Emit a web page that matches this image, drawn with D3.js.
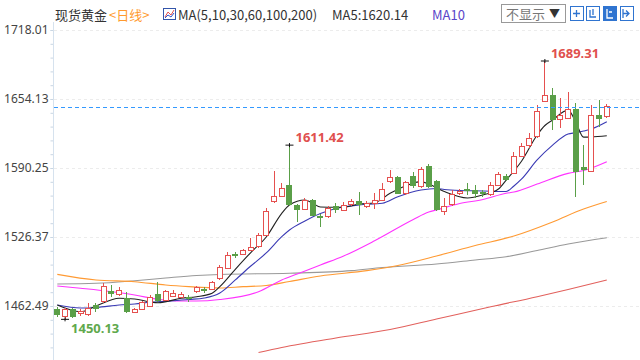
<!DOCTYPE html>
<html>
<head>
<meta charset="utf-8">
<script src="https://cdn.jsdelivr.net/npm/d3@7"></script>
<style>
  body { margin: 0; background: #fff; }
  svg { display: block; font-family: "Noto Sans CJK SC", "Noto Sans", sans-serif; }
</style>
</head>
<body>
<svg id="chart"></svg>
<script>
// daily candles (oldest first)
const opens = [1459.4,1452.6,1458.8,1455.1,1454.2,1462.5,1466.5,1475.5,1472.7,1469.6,
  1456.3,1459.7,1461.9,1472.7,1467.6,1471.7,1470.8,1470.8,1475.7,1477.8,
  1478.0,1488.4,1497.4,1510.6,1510.6,1514.3,1517.4,1528.2,1559.1,1564.3,
  1574.5,1555.1,1552.0,1560.0,1545.8,1545.2,1554.4,1550.7,1556.0,1559.1,
  1554.4,1557.8,1560.6,1577.6,1581.0,1566.2,1582.8,1572.9,1591.5,1577.3,
  1549.8,1556.0,1566.8,1570.8,1569.0,1567.6,1565.3,1574.5,1582.2,1585.3,
  1600.7,1611.5,1619.2,1651.6,1657.8,1634.7,1636.3,1644.0,1590.5,1586.8,
  1638.4,1637.7];
const highs = [1461.6,1460.6,1460.6,1459.7,1465.3,1465.3,1483.8,1481.9,1480.1,1475.7,
  1460.6,1467.1,1472.7,1485.0,1477.3,1477.3,1475.5,1472.7,1481.0,1480.1,
  1485.6,1500.5,1512.8,1512.8,1515.3,1525.5,1530.1,1553.2,1587.8,1576.6,
  1611.42,1556.9,1562.5,1561.5,1547.7,1555.1,1557.8,1559.1,1561.5,1568.3,
  1559.7,1567.4,1576.4,1588.4,1582.8,1578.2,1586.5,1591.2,1594.0,1579.1,
  1562.5,1569.9,1570.8,1576.4,1574.5,1569.9,1577.6,1586.8,1584.7,1605.3,
  1613.4,1622.7,1648.6,1689.31,1664.0,1655.1,1660.9,1650.4,1611.5,1648.6,
  1653.2,1649.5];
const lows = [1452.3,1450.13,1451.4,1453.2,1453.2,1457.2,1465.3,1470.8,1471.7,1456.0,
  1456.0,1458.8,1461.6,1466.2,1467.1,1470.8,1469.9,1466.5,1474.5,1474.5,
  1477.3,1486.6,1496.7,1506.6,1509.7,1513.9,1516.6,1527.3,1557.8,1563.4,
  1555.1,1540.5,1551.4,1545.8,1535.9,1544.4,1548.6,1550.0,1555.1,1546.7,
  1553.2,1552.3,1559.7,1576.8,1566.2,1565.3,1571.7,1571.7,1571.7,1550.4,
  1546.7,1555.1,1565.3,1565.3,1562.5,1563.4,1564.3,1573.6,1578.2,1584.7,
  1600.0,1608.8,1618.0,1650.9,1625.4,1627.3,1635.6,1563.7,1574.5,1586.1,
  1628.5,1637.0];
const closes = [1454.2,1458.8,1452.6,1457.2,1460.6,1460.6,1480.4,1473.6,1477.3,1457.2,
  1458.8,1465.3,1469.9,1468.0,1475.5,1474.5,1472.7,1469.9,1479.2,1476.9,
  1484.1,1497.7,1509.7,1509.7,1513.7,1516.2,1528.2,1549.8,1563.7,1571.7,
  1556.0,1551.4,1560.0,1546.7,1544.0,1553.2,1552.0,1555.1,1559.1,1556.0,
  1557.8,1560.6,1569.9,1581.0,1566.8,1576.4,1573.6,1588.4,1572.9,1551.4,
  1554.4,1565.3,1568.3,1569.4,1567.1,1566.7,1574.5,1583.8,1579.8,1600.7,
  1609.9,1617.7,1642.4,1657.8,1635.3,1639.3,1644.0,1586.8,1588.4,1639.3,
  1636.3,1647.0];

// moving averages as [candle index, price]
const ma5 = [[0,1463.4],[3,1457.2],[5,1462.5],[8,1469.6],[10,1469.0],[12,1466.2],[13,1465.5],
  [16,1469.6],[18,1471.1],[20,1474.3],[21,1480.4],[23,1496.5],[25,1512.0],[27,1526.4],
  [29,1548.3],[30,1556.0],[32,1560.6],[33,1557.6],[34,1554.1],[36,1553.9],[37,1553.9],
  [39,1556.9],[41,1558.1],[43,1566.8],[45,1573.6],[47,1577.6],[48,1575.4],[50,1568.5],
  [53,1562.5],[55,1565.3],[57,1570.8],[58,1579.1],[60,1596.7],[62,1620.8],[63,1629.6],
  [64,1634.7],[66,1643.8],[67,1632.6],[68,1618.8],[69,1619.0],[71,1620.14]];
const ma10 = [[0,1463.4],[3,1460.6],[5,1461.1],[8,1463.4],[10,1464.4],[12,1465.9],[14,1466.9],
  [17,1468.5],[19,1469.9],[21,1474.5],[23,1486.6],[25,1499.5],[27,1511.6],[29,1526.7],
  [30,1532.9],[32,1541.2],[34,1548.1],[36,1552.8],[39,1556.0],[42,1557.6],[44,1563.7],
  [47,1569.9],[49,1571.3],[50,1570.3],[52,1569.4],[55,1569.0],[58,1568.5],[59,1573.6],
  [60,1580.1],[62,1597.7],[64,1611.5],[66,1621.7],[67,1622.9],[68,1624.5],[69,1626.4],
  [71,1633.1]];
const ma30 = [[0,1481.0],[3,1478.9],[10,1472.7],[13,1468.7],[16,1467.1],[18,1467.1],[21,1468.5],
  [26,1475.7],[29,1486.6],[31,1492.1],[34,1500.5],[37,1508.8],[41,1522.9],[46,1542.6],
  [48,1549.5],[49,1551.4],[52,1557.4],[55,1561.1],[58,1566.8],[59,1568.0],[62,1575.4],
  [66,1585.3],[68,1587.9],[71,1596.1]];
const ma60 = [[0,1491.8],[5,1486.6],[10,1485.0],[14,1481.9],[17,1480.4],[21,1479.2],[24,1480.4],
  [27,1481.5],[30,1485.2],[34,1490.3],[40,1495.2],[44,1500.0],[49,1508.8],[54,1518.5],
  [59,1527.3],[64,1540.3],[68,1552.3],[71,1559.2]];
const ma100 = [[0,1482.9],[5,1483.5],[10,1485.9],[14,1488.4],[18,1490.7],[21,1491.7],[30,1492.8],
  [38,1495.2],[42,1498.1],[49,1501.4],[54,1505.1],[58,1508.1],[62,1513.9],[66,1519.9],
  [71,1525.7]];
const ma200 = [[26,1419.4],[29,1424.1],[36,1432.9],[43,1440.7],[49,1450.4],[56,1461.8],
  [62,1471.1],[66,1477.8],[71,1486.6]];

const yLabels = [1718.01, 1654.13, 1590.25, 1526.37, 1462.49];
const lastPrice = 1647.0;
const ma5Last = "1620.14";
const marks = [63, 30, 1]; // candles whose extreme is labelled

const svg = d3.select("#chart").attr("width", 640).attr("height", 360);
svg.append("rect").attr("width", 640).attr("height", 360).attr("fill", "#fff");

const x = d3.scaleLinear().domain([0, closes.length - 1]).range([57.3, 606.8]);
const y = d3.scaleLinear().domain([1462.49, 1718.01]).range([306, 30]);

svg.append("clipPath").attr("id", "plot")
  .append("rect").attr("x", 54).attr("y", 22).attr("width", 586).attr("height", 334);

// faint grid
svg.append("g").selectAll("line").data(yLabels).join("line")
  .attr("x1", 54).attr("x2", 640)
  .attr("y1", d => Math.round(y(d)) + 0.5).attr("y2", d => Math.round(y(d)) + 0.5)
  .attr("stroke", "#ececec").attr("stroke-dasharray", "3,3");

// y axis
const step = (yLabels[0] - yLabels[1]) / 5;
const minor = d3.range(-3, 21).map(k => yLabels[4] + k * step);
svg.append("g").attr("transform", "translate(53.5,0)")
  .call(d3.axisLeft(y).tickValues(minor).tickSize(3).tickFormat(""))
  .call(g => g.select(".domain").remove())
  .call(g => g.selectAll("line").attr("stroke", "#c9d6e3"));
svg.append("g").attr("transform", "translate(53.5,0)")
  .call(d3.axisLeft(y).tickValues(yLabels).tickSize(3).tickPadding(2).tickFormat(d3.format(".2f")))
  .call(g => g.select(".domain").remove())
  .call(g => g.selectAll("line").attr("stroke", "#c9d6e3"))
  .call(g => g.selectAll("text").attr("fill", "#444").attr("font-size", 12)
    .attr("font-family", "'Noto Sans', sans-serif"));
svg.append("line").attr("x1", 53.5).attr("x2", 53.5).attr("y1", 22).attr("y2", 360)
  .attr("stroke", "#d6e2ee");

const plot = svg.append("g").attr("clip-path", "url(#plot)");

// moving averages
const line = d3.line().x(d => x(d[0])).y(d => y(d[1])).curve(d3.curveMonotoneX);
const maSeries = [
  { data: ma200, color: "#e2605c" },
  { data: ma100, color: "#999999" },
  { data: ma60, color: "#ff9a33" },
  { data: ma30, color: "#ff33ff" },
  { data: ma10, color: "#3a3ab4" },
  { data: ma5, color: "#222222" }
];
plot.selectAll("path.ma").data(maSeries).join("path")
  .attr("class", "ma")
  .attr("d", d => line(d.data))
  .attr("fill", "none")
  .attr("stroke", d => d.color)
  .attr("stroke-width", 1.1);

// candles
const red = "#e5504f", green = "#5a9f48";
const idx = d3.range(closes.length);
const up = i => closes[i] >= opens[i];
const cg = plot.append("g").attr("shape-rendering", "crispEdges");
cg.selectAll("line").data(idx).join("line")
  .attr("x1", i => x(i)).attr("x2", i => x(i))
  .attr("y1", i => y(highs[i])).attr("y2", i => y(lows[i]))
  .attr("stroke", i => up(i) ? red : green);
cg.selectAll("rect").data(idx).join("rect")
  .attr("x", i => x(i) - 2.5)
  .attr("width", 5)
  .attr("y", i => y(Math.max(opens[i], closes[i])))
  .attr("height", i => Math.max(1, Math.abs(y(opens[i]) - y(closes[i]))))
  .attr("fill", i => up(i) ? "#fff" : green)
  .attr("stroke", i => up(i) ? red : green);

// current price
svg.append("line").attr("x1", 54).attr("x2", 640)
  .attr("y1", Math.round(y(lastPrice)) + 0.5).attr("y2", Math.round(y(lastPrice)) + 0.5)
  .attr("stroke", "#3399ff").attr("stroke-dasharray", "4,3");

// extreme marks
const isLow = i => i === d3.minIndex(lows);
const mg = svg.append("g");
marks.forEach(i => {
  const v = isLow(i) ? lows[i] : highs[i];
  const px = x(i), py = y(v);
  mg.append("line").attr("x1", px - 4).attr("x2", px + 4).attr("y1", py).attr("y2", py)
    .attr("stroke", "#111");
  mg.append("line").attr("x1", px).attr("x2", px).attr("y1", py - 2).attr("y2", py + 2)
    .attr("stroke", "#111");
  mg.append("text")
    .attr("x", px + 6).attr("y", isLow(i) ? py + 13.5 : py - 3.5)
    .attr("fill", isLow(i) ? "#5fa94d" : "#e0504e")
    .attr("font-size", 13).attr("font-weight", "bold")
    .attr("font-family", "'Noto Sans', sans-serif")
    .text(d3.format(".2f")(v));
});

// header
const head = svg.append("g").attr("font-size", 13);
head.append("text").attr("x", 55).attr("y", 19.5).attr("fill", "#333").text("现货黄金");
head.append("text").attr("x", 109).attr("y", 19.5).attr("fill", "#ff9a2e").text("<日线>");
head.append("rect").attr("x", 163.5).attr("y", 8.5).attr("width", 12).attr("height", 11)
  .attr("fill", "#fff").attr("stroke", "#3355aa");
head.append("path").attr("d", "M165,17 L168,12 L171,15 L174,10")
  .attr("fill", "none").attr("stroke", "#e0504e");
head.append("path").attr("d", "M165,18 L168,15 L171,17 L174,13")
  .attr("fill", "none").attr("stroke", "#3355cc");
head.append("text").attr("x", 178).attr("y", 19.5).attr("fill", "#333").text("MA(5,10,30,60,100,200)");
head.append("text").attr("x", 332).attr("y", 19.5).attr("fill", "#333").text("MA5:" + ma5Last);
head.append("text").attr("x", 432).attr("y", 19.5).attr("fill", "#5a45c8").text("MA10");

// toolbar on the right
svg.append("rect").attr("x", 501.5).attr("y", 4.5).attr("width", 64).attr("height", 18)
  .attr("fill", "#fff").attr("stroke", "#999");
svg.append("text").attr("x", 506).attr("y", 18.5).attr("font-size", 13).attr("fill", "#777").text("不显示");
svg.append("text").attr("x", 549).attr("y", 18).attr("font-size", 11).attr("fill", "#333").text("▼");
const btnX = [570, 586, 603, 620];
svg.append("g").selectAll("rect").data(btnX).join("rect")
  .attr("x", d => d + 0.5).attr("y", 6.5).attr("width", 13).attr("height", 14)
  .attr("fill", (d, i) => i === 2 ? "#2f74d0" : "#fff")
  .attr("stroke", "#2f74d0");
const glyphs = ["M573,13.5 h7 M576.5,10 v7", "M590,10 v7 h6 M593,9 v6", "M607,9 v9 h6 M609,12 h3", "M623,13.5 h6 M626,10.5 l3,3 l-3,3 M623,9 v9"];
svg.append("g").selectAll("path").data(glyphs).join("path")
  .attr("d", d => d).attr("fill", "none")
  .attr("stroke", (d, i) => i === 2 ? "#fff" : "#2f74d0").attr("stroke-width", 1.3);
</script>
</body>
</html>
